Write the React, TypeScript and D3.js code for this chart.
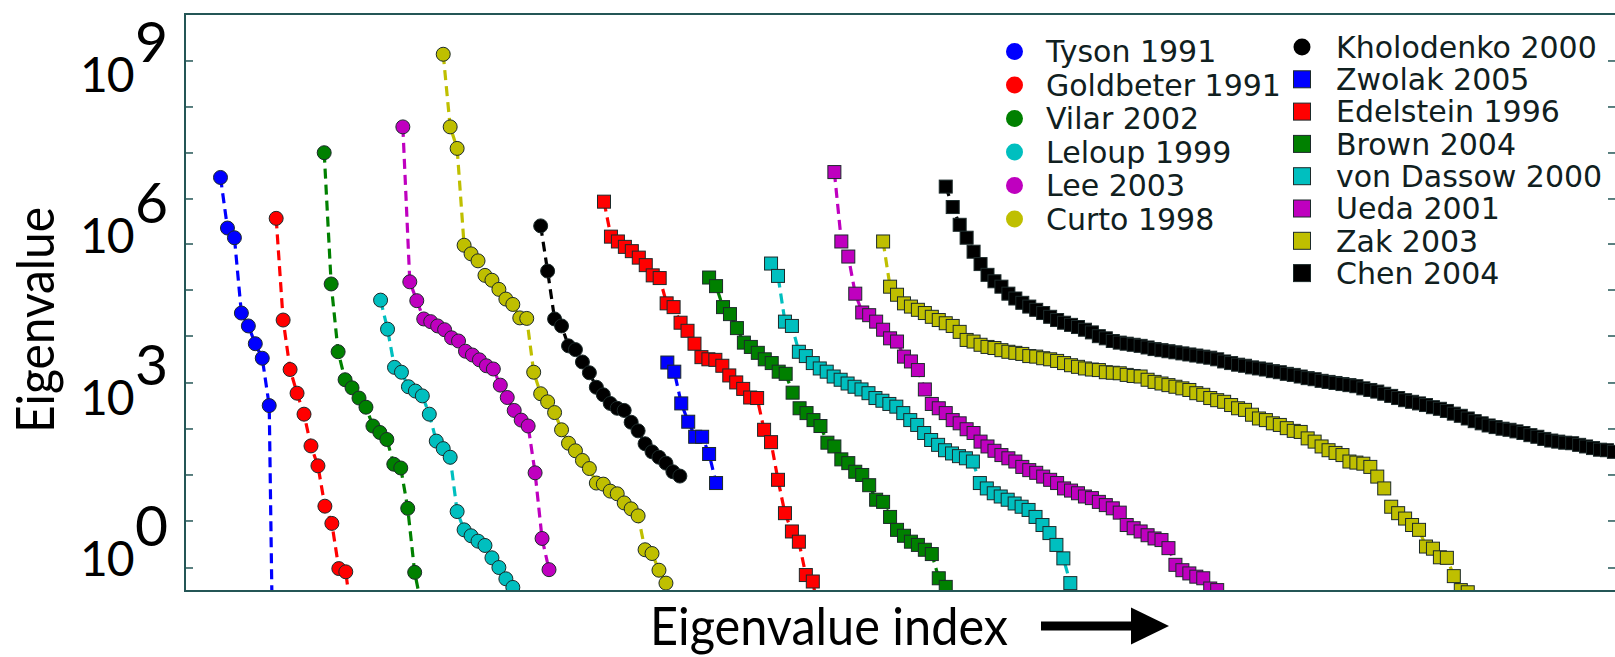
import React, { useRef, useEffect } from "react";
import * as d3 from "d3";

// log10 of each eigenvalue, largest first
const tysonExp = [6.72, 5.78, 5.6, 4.2, 3.96, 3.63, 3.36, 2.48, -6.7];
const goldbeterExp = [5.96, 4.07, 3.15, 2.71, 2.32, 1.73, 1.36, 0.61, 0.29, -0.55, -0.61, -1.65];
const vilarExp = [7.18, 4.74, 3.48, 2.96, 2.81, 2.62, 2.45, 2.1, 1.98, 1.85, 1.39, 1.32, 0.57, -0.62, -1.27];
const leloupExp = [
  4.44, 3.9, 3.19, 3.1, 2.83, 2.75, 2.66, 2.32, 1.82, 1.68, 1.52, 0.51, 0.17, 0.06, -0.04, -0.12, -0.35,
  -0.53, -0.74, -0.9,
];
const leeExp = [
  7.66, 4.78, 4.43, 4.09, 4.04, 3.96, 3.89, 3.74, 3.68, 3.49, 3.42, 3.33, 3.22, 3.16, 2.86, 2.63, 2.39,
  2.21, 2.1, 1.23, 0.01, -0.57,
];
const curtoExp = [
  9.01, 7.66, 7.26, 5.46, 5.3, 5.17, 4.9, 4.81, 4.64, 4.46, 4.36, 4.11, 4.1, 3.1, 2.7, 2.55, 2.35, 2.03,
  1.78, 1.64, 1.46, 1.31, 1.04, 1.02, 0.89, 0.84, 0.67, 0.56, 0.43, -0.2, -0.27, -0.58, -0.82,
];
const kholodenkoExp = [
  5.82, 4.98, 4.09, 3.96, 3.59, 3.52, 3.29, 3.09, 2.82, 2.68, 2.52, 2.43, 2.39, 2.17, 2.01, 1.77, 1.62,
  1.52, 1.41, 1.25, 1.17,
];
const zwolakExp = [3.28, 3.11, 2.52, 2.18, 1.9, 1.9, 1.58, 1.04];
const edelsteinExp = [
  6.27, 5.62, 5.53, 5.43, 5.35, 5.23, 5.09, 4.9, 4.85, 4.38, 4.31, 4.02, 3.87, 3.63, 3.38, 3.34, 3.33,
  3.22, 3.04, 2.91, 2.79, 2.63, 2.62, 2.03, 1.8, 1.1, 0.48, 0.14, -0.05, -0.67, -0.79, -1.5,
];
const brownExp = [
  4.86, 4.7, 4.31, 4.18, 3.92, 3.65, 3.57, 3.46, 3.34, 3.27, 3.11, 3.07, 2.72, 2.43, 2.34, 2.21, 2.1,
  1.79, 1.72, 1.48, 1.41, 1.25, 1.19, 1.0, 0.73, 0.69, 0.41, 0.17, 0.06, -0.05, -0.11, -0.2, -0.28,
  -0.73, -0.89,
];
const vonDassowExp = [
  5.12, 4.89, 4.04, 3.96, 3.48, 3.4, 3.27, 3.17, 3.11, 3.02, 2.96, 2.89, 2.83, 2.78, 2.71, 2.62, 2.57,
  2.51, 2.46, 2.34, 2.21, 2.12, 1.97, 1.84, 1.75, 1.65, 1.59, 1.54, 1.5, 1.44, 1.04, 0.94, 0.85, 0.79,
  0.73, 0.66, 0.6, 0.54, 0.41, 0.26, 0.11, -0.11, -0.36, -0.82,
];
const uedaExp = [
  6.82, 5.53, 5.25, 4.56, 4.21, 4.16, 4.04, 3.89, 3.73, 3.67, 3.39, 3.3, 3.14, 2.78, 2.51, 2.43, 2.34,
  2.21, 2.15, 2.04, 1.97, 1.81, 1.72, 1.64, 1.56, 1.5, 1.44, 1.34, 1.28, 1.23, 1.16, 1.1, 1.04, 0.94,
  0.9, 0.85, 0.79, 0.76, 0.69, 0.63, 0.57, 0.49, 0.26, 0.2, 0.14, 0.07, 0.01, -0.02, -0.17, -0.48,
  -0.58, -0.64, -0.7, -0.73, -0.92, -0.95,
];
const zakExp = [
  5.53, 4.69, 4.54, 4.38, 4.32, 4.26, 4.2, 4.13, 4.07, 4.01, 3.96, 3.85, 3.7, 3.67, 3.61, 3.57, 3.55,
  3.51, 3.48, 3.46, 3.44, 3.4, 3.39, 3.36, 3.34, 3.31, 3.27, 3.23, 3.2, 3.17, 3.15, 3.14, 3.1, 3.09,
  3.08, 3.05, 3.03, 3.02, 2.96, 2.92, 2.89, 2.86, 2.83, 2.8, 2.77, 2.71, 2.68, 2.62, 2.58, 2.55, 2.49,
  2.43, 2.4, 2.31, 2.24, 2.21, 2.15, 2.12, 2.06, 2.01, 1.99, 1.87, 1.81, 1.72, 1.65, 1.6, 1.56, 1.44,
  1.42, 1.4, 1.34, 1.16, 0.94, 0.6, 0.48, 0.38, 0.26, 0.17, -0.14, -0.18, -0.34, -0.35, -0.69, -0.95,
  -0.99,
];
const chenExp = [
  6.55, 6.17, 5.84, 5.6, 5.34, 5.11, 4.91, 4.79, 4.69, 4.56, 4.47, 4.39, 4.32, 4.26, 4.2, 4.13, 4.07,
  4.02, 3.98, 3.94, 3.89, 3.84, 3.77, 3.73, 3.68, 3.65, 3.63, 3.61, 3.59, 3.56, 3.53, 3.51, 3.49, 3.47,
  3.45, 3.43, 3.41, 3.39, 3.37, 3.34, 3.3, 3.27, 3.24, 3.22, 3.19, 3.17, 3.15, 3.12, 3.1, 3.07, 3.05,
  3.02, 2.99, 2.97, 2.94, 2.92, 2.9, 2.88, 2.86, 2.84, 2.8, 2.77, 2.74, 2.7, 2.66, 2.62, 2.58, 2.55,
  2.52, 2.49, 2.45, 2.42, 2.38, 2.33, 2.29, 2.24, 2.19, 2.15, 2.11, 2.08, 2.05, 2.03, 2.0, 1.97, 1.93,
  1.9, 1.86, 1.83, 1.81, 1.79, 1.78, 1.75, 1.72, 1.69, 1.66, 1.65, 1.62,
];

// models plotted with circles / squares, and the index of their first eigenvalue
const circleNames = ["Tyson 1991", "Goldbeter 1991", "Vilar 2002", "Leloup 1999", "Lee 2003", "Curto 1998", "Kholodenko 2000"];
const circleValues = [tysonExp, goldbeterExp, vilarExp, leloupExp, leeExp, curtoExp, kholodenkoExp];
const circleStarts = [5.1, 13.1, 20.0, 28.1, 31.3, 37.1, 51.1];
const circleColors = ["#0000ff", "#ff0000", "#008000", "#00bfbf", "#bf00bf", "#bfbf00", "#000000"];

const squareNames = ["Zwolak 2005", "Edelstein 1996", "Brown 2004", "von Dassow 2000", "Ueda 2001", "Zak 2003", "Chen 2004"];
const squareValues = [zwolakExp, edelsteinExp, brownExp, vonDassowExp, uedaExp, zakExp, chenExp];
const squareStarts = [69.3, 60.2, 75.3, 84.2, 93.3, 100.3, 109.3];
const squareColors = ["#0000ff", "#ff0000", "#008000", "#00bfbf", "#bf00bf", "#bfbf00", "#000000"];

// y axis: labelled decades and the (unlabelled) tick marks, as log10 values
const yLabelExps = [0, 3, 6, 9];
const yTickExps = [8.885, 8.03, 7.175, 6.32, 5.483, 4.628, 3.773, 2.9, 2.045, 1.19, 0.335, -0.539];

const App = () => {
  const svgRef = useRef<SVGSVGElement>(null);

  useEffect(() => {
    const width = 1615;
    const height = 657;
    const left = 185;
    const right = 1616;
    const top = 14;
    const bottom = 591;
    const frameColor = "#245656";

    const svg = d3.select(svgRef.current).attr("width", width).attr("height", height);
    svg.selectAll("*").remove();
    svg.append("rect").attr("width", width).attr("height", height).attr("fill", "#fff");

    const x = d3.scaleLinear().domain([0, 205.6]).range([left, right]);
    const y = d3.scaleLog().domain([0.108, 5.73e9]).range([bottom, top]);

    svg
      .append("defs")
      .append("clipPath")
      .attr("id", "plot-clip")
      .append("rect")
      .attr("x", left)
      .attr("y", top)
      .attr("width", right - left)
      .attr("height", bottom - top);

    const line = d3
      .line<[number, number]>()
      .x((d) => x(d[0]))
      .y((d) => y(d[1]));

    const series = [
      ...circleNames.map((name, i) => ({
        name,
        values: circleValues[i],
        start: circleStarts[i],
        color: circleColors[i],
        shape: "circle",
      })),
      ...squareNames.map((name, i) => ({
        name,
        values: squareValues[i],
        start: squareStarts[i],
        color: squareColors[i],
        shape: "square",
      })),
    ];

    const plot = svg.append("g").attr("clip-path", "url(#plot-clip)");
    const sq = 13;

    series.forEach((s) => {
      const pts: [number, number][] = s.values.map((e, i) => [s.start + i, Math.pow(10, e)]);
      const g = plot.append("g");
      g.append("path")
        .datum(pts)
        .attr("d", line)
        .attr("fill", "none")
        .attr("stroke", s.color)
        .attr("stroke-width", 3.2)
        .attr("stroke-dasharray", "10,6");
      if (s.shape === "circle") {
        g.selectAll("circle")
          .data(pts)
          .join("circle")
          .attr("cx", (d) => x(d[0]))
          .attr("cy", (d) => y(d[1]))
          .attr("r", 7)
          .attr("fill", s.color)
          .attr("stroke", "#1c2a2a")
          .attr("stroke-width", 1);
      } else {
        g.selectAll("rect")
          .data(pts)
          .join("rect")
          .attr("x", (d) => x(d[0]) - sq / 2)
          .attr("y", (d) => y(d[1]) - sq / 2)
          .attr("width", sq)
          .attr("height", sq)
          .attr("fill", s.color)
          .attr("stroke", "#1c2a2a")
          .attr("stroke-width", 1);
      }
    });

    // frame
    const frame = svg.append("g").attr("stroke", frameColor).attr("stroke-width", 2).attr("fill", "none");
    frame.append("rect").attr("x", left).attr("y", top).attr("width", right - left).attr("height", bottom - top);

    // y ticks, inward on both sides
    const ticks = svg.append("g").attr("stroke", frameColor).attr("stroke-width", 1.5);
    yTickExps.forEach((e) => {
      const ty = y(Math.pow(10, e));
      ticks.append("line").attr("x1", left).attr("x2", left + 8).attr("y1", ty).attr("y2", ty);
      ticks.append("line").attr("x1", right - 8).attr("x2", right).attr("y1", ty).attr("y2", ty);
    });

    // y tick labels 10^k, one text each with a raised exponent
    const labels = svg.append("g").attr("font-family", "Lato, 'Open Sans', sans-serif").attr("fill", "#000");
    yLabelExps.forEach((k) => {
      const ly = y(Math.pow(10, k));
      const t = labels.append("text").attr("x", 80).attr("y", ly + 37).attr("font-size", 48);
      t.append("tspan").attr("letter-spacing", -1).text("10");
      t.append("tspan").attr("x", 135).attr("dy", -30).attr("font-size", 57).text(String(k));
    });

    // axis titles
    labels
      .append("text")
      .attr("transform", `translate(54, 320) rotate(-90)`)
      .attr("text-anchor", "middle")
      .attr("font-size", 52)
      .attr("textLength", 226)
      .attr("lengthAdjust", "spacingAndGlyphs")
      .text("Eigenvalue");
    labels
      .append("text")
      .attr("x", 650)
      .attr("y", 645)
      .attr("font-size", 52)
      .attr("textLength", 358)
      .attr("lengthAdjust", "spacingAndGlyphs")
      .text("Eigenvalue index");

    // arrow next to the x title
    svg
      .append("line")
      .attr("x1", 1041)
      .attr("x2", 1136)
      .attr("y1", 626)
      .attr("y2", 626)
      .attr("stroke", "#000")
      .attr("stroke-width", 9);
    svg.append("path").attr("d", "M1131,607.5 L1169,626 L1131,644.5 Z").attr("fill", "#000");

    // legend, two columns
    const legend = svg
      .append("g")
      .attr("font-family", "'DejaVu Sans', sans-serif")
      .attr("font-size", 30)
      .attr("fill", "#102020");

    const col1 = circleNames.slice(0, 6);
    col1.forEach((name, i) => {
      const ry = 51.5 + i * 33.5;
      legend.append("circle").attr("cx", 1014.5).attr("cy", ry).attr("r", 8.5).attr("fill", circleColors[i]);
      legend.append("text").attr("x", 1046).attr("y", ry).attr("dy", "0.36em").text(name);
    });

    const col2 = [{ name: circleNames[6], color: circleColors[6], shape: "circle" }].concat(
      squareNames.map((name, i) => ({ name, color: squareColors[i], shape: "square" }))
    );
    col2.forEach((d, i) => {
      const ry = 47 + i * 32.3;
      if (d.shape === "circle") {
        legend.append("circle").attr("cx", 1302).attr("cy", ry).attr("r", 8.5).attr("fill", d.color);
      } else {
        legend
          .append("rect")
          .attr("x", 1302 - 8.5)
          .attr("y", ry - 8.5)
          .attr("width", 17)
          .attr("height", 17)
          .attr("fill", d.color)
          .attr("stroke", "#1c2a2a")
          .attr("stroke-width", 1);
      }
      legend.append("text").attr("x", 1336).attr("y", ry).attr("dy", "0.36em").text(d.name);
    });
  }, []);

  return (
    <div>
      <svg ref={svgRef} style={{ position: "absolute", left: 0, top: 0, display: "block" }}></svg>
    </div>
  );
};

export default App;
